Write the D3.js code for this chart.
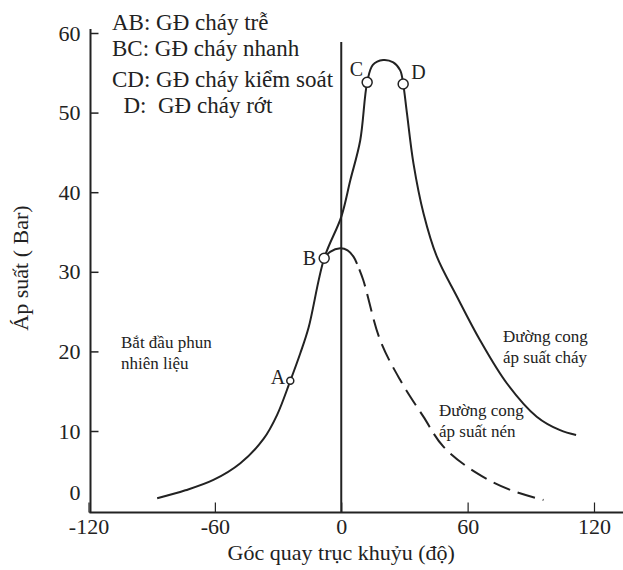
<!DOCTYPE html>
<html>
<head>
<meta charset="utf-8">
<script src="https://cdn.jsdelivr.net/npm/d3@7"></script>
<style>
  body { margin: 0; background: #fff; }
  svg text { font-family: 'Liberation Serif', 'DejaVu Serif', serif; fill: #222; }
</style>
</head>
<body>
<div id="chart"></div>
<script>
// góc quay (độ) / áp suất (bar)
const combustionAngle = [-87.4, -74, -60.7, -47.9, -36.9, -30.5, -24.2, -19.4, -15.5, -8.1, 0, 4.3, 9.0, 12.3, 15.0, 19.9, 24.7, 28.0, 29.4, 31.2, 34.3, 39.1, 45.4, 54.9, 65.9, 78.6, 92.8, 103.9, 111.5]
const combustionPressure = [1.55, 2.55, 3.85, 5.95, 9.0, 12.0, 16.3, 19.8, 23.0, 31.7, 36.9, 41.5, 46.5, 53.8, 56.0, 56.6, 56.3, 55.3, 53.6, 49.9, 43.6, 37.3, 31.9, 26.9, 21.4, 16.0, 11.8, 10.1, 9.5]

const compressionSolidAngle = [-8.1, -5.3, -0.5, 3.0, 5.8, 7.5]
const compressionSolidPressure = [31.7, 32.5, 32.95, 32.7, 31.9, 31.0]
const compressionDashAngle = [7.5, 10.4, 18.5, 28.0, 39.0, 48.6, 64.4, 80.2, 96.0]
const compressionDashPressure = [31.0, 29.0, 21.4, 16.4, 11.8, 8.0, 4.7, 2.6, 1.33]

const pointNames = ['A', 'B', 'C', 'D']
const pointAngle = [-24.2, -8.1, 12.3, 29.4]
const pointPressure = [16.3, 31.7, 53.8, 53.6]

const xTicks = [-120, -60, 0, 60, 120]
const yTicks = [0, 10, 20, 30, 40, 50, 60]

const legendLines = ['AB: GĐ cháy trễ', 'BC: GĐ cháy nhanh', 'CD: GĐ cháy kiểm soát', '  D:  GĐ cháy rớt']

const width = 623
const height = 570

const svg = d3
  .select('#chart')
  .append('svg')
  .attr('width', width)
  .attr('height', height)

const x = d3.scaleLinear().domain([-120, 120]).range([88.5, 594])
const y = d3.scaleLinear().domain([0, 60]).range([510.6, 33])

const ink = '#222'

// y axis
const yAxis = svg
  .append('g')
  .attr('transform', 'translate(90.5,0)')
  .call(
    d3.axisLeft(y)
      .tickValues(yTicks)
      .tickSizeInner(-8)
      .tickSizeOuter(0)
      .tickPadding(10)
  )
yAxis.select('.domain').remove()
yAxis.selectAll('line').attr('stroke', ink).attr('stroke-width', 1.5)
yAxis.selectAll('text')
  .style('font-size', '22px')
  .attr('fill', ink)
yAxis.selectAll('.tick').filter(d => d === 0).select('line').remove()
yAxis.selectAll('.tick').filter(d => d === 0).select('text').attr('dy', '-0.5em')

svg.append('line')
  .attr('x1', 90.5).attr('x2', 90.5)
  .attr('y1', 29).attr('y2', 513)
  .attr('stroke', ink).attr('stroke-width', 2)

// x axis
const xAxis = svg
  .append('g')
  .attr('transform', 'translate(0,512.5)')
  .call(
    d3.axisBottom(x)
      .tickValues(xTicks)
      .tickFormat(d => String(d))
      .tickSizeInner(-10)
      .tickSizeOuter(0)
      .tickPadding(6)
  )
xAxis.select('.domain').remove()
xAxis.selectAll('line').attr('stroke', ink).attr('stroke-width', 1.2)
xAxis.selectAll('text')
  .style('font-size', '22px')
  .attr('fill', ink)

svg.append('line')
  .attr('x1', 89.5).attr('x2', width)
  .attr('y1', 512.5).attr('y2', 512.5)
  .attr('stroke', ink).attr('stroke-width', 2)

// vertical line at 0 degrees
svg.append('line')
  .attr('x1', x(0)).attr('x2', x(0))
  .attr('y1', 42).attr('y2', 512)
  .attr('stroke', ink).attr('stroke-width', 2)

// axis titles
svg.append('text')
  .attr('x', x(0))
  .attr('y', 560)
  .attr('text-anchor', 'middle')
  .style('font-size', '22px')
  .text('Góc quay trục khuỷu (độ)')

svg.append('text')
  .attr('transform', 'translate(28,268) rotate(-90)')
  .attr('text-anchor', 'middle')
  .style('font-size', '22px')
  .text('Áp suất ( Bar)')

// curves
const line = d3.line()
  .x(d => x(d[0]))
  .y(d => y(d[1]))
  .curve(d3.curveCatmullRom.alpha(0.5))

const combustion = combustionAngle.map((a, i) => [a, combustionPressure[i]])
const compSolid = compressionSolidAngle.map((a, i) => [a, compressionSolidPressure[i]])
const compDash = compressionDashAngle.map((a, i) => [a, compressionDashPressure[i]])

svg.append('path')
  .datum(combustion)
  .attr('d', line)
  .attr('fill', 'none')
  .attr('stroke', ink)
  .attr('stroke-width', 2)

svg.append('path')
  .datum(compSolid)
  .attr('d', line)
  .attr('fill', 'none')
  .attr('stroke', ink)
  .attr('stroke-width', 2)

svg.append('path')
  .datum(compDash)
  .attr('d', line)
  .attr('fill', 'none')
  .attr('stroke', ink)
  .attr('stroke-width', 2)
  .attr('stroke-dasharray', '18,8')
  .attr('stroke-dashoffset', 20)

// marked points
const points = pointNames.map((n, i) => ({ name: n, a: pointAngle[i], p: pointPressure[i] }))
const labelOffset = {
  A: [-5, 3],
  B: [-8, 7],
  C: [-4, -6],
  D: [8, -5]
}

svg.selectAll('circle.pt')
  .data(points)
  .enter()
  .append('circle')
  .attr('class', 'pt')
  .attr('cx', d => x(d.a))
  .attr('cy', d => y(d.p))
  .attr('r', d => (d.name === 'A' ? 3.5 : 5))
  .attr('fill', '#fff')
  .attr('stroke', ink)
  .attr('stroke-width', 1.5)

svg.selectAll('text.pt')
  .data(points)
  .enter()
  .append('text')
  .attr('class', 'pt')
  .attr('x', d => x(d.a) + labelOffset[d.name][0])
  .attr('y', d => y(d.p) + labelOffset[d.name][1])
  .attr('text-anchor', d => (d.name === 'D' ? 'start' : 'end'))
  .style('font-size', '20px')
  .text(d => d.name)

// legend
const legendY = [30, 56, 87, 113]
svg.selectAll('text.legend')
  .data(legendLines)
  .enter()
  .append('text')
  .attr('class', 'legend')
  .attr('x', 112)
  .attr('y', (d, i) => legendY[i])
  .attr('xml:space', 'preserve')
  .style('white-space', 'pre')
  .style('font-size', '23px')
  .text(d => d)

// annotations
function note(lines, px, py) {
  const t = svg.append('text').style('font-size', '17px')
  lines.forEach((s, i) => {
    t.append('tspan').attr('x', px).attr('y', py + i * 21).text(s)
  })
}
note(['Bắt đầu phun', 'nhiên liệu'], 121, 348)
note(['Đường cong', 'áp suất cháy'], 503, 342)
note(['Đường cong', 'áp suất nén'], 439, 416)
</script>
</body>
</html>
